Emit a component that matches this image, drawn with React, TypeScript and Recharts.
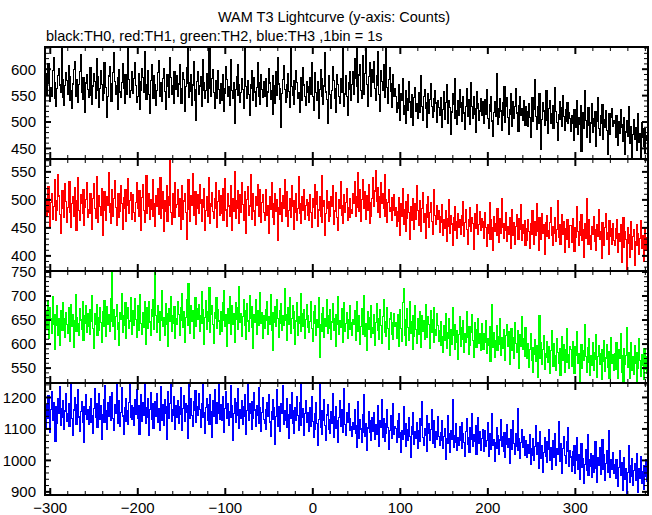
import { Line, LineChart, ReferenceArea, XAxis, YAxis } from "recharts";

// 1 s bins starting at t = -305 s
const T0 = -305;
const BIN = 1;

// TH0 (black)
const th0 = [
  591, 552, 574, 610, 583, 539, 566, 548, 597, 621, 575, 544, 529, 563, 588, 602, 570, 556, 640, 581, 547, 532, 569, 594, 578,
  553, 607, 586, 541, 560, 525, 572, 599, 615, 563, 549, 580, 537, 571, 596, 628, 557, 542, 585, 566, 519, 574, 590, 561, 546,
  579, 603, 551, 534, 568, 592, 577, 545, 620, 586, 559, 527, 563, 598, 571, 540, 555, 613, 582, 566, 509, 548, 587, 604, 572,
  539, 561, 594, 631, 576, 552, 568, 523, 584, 599, 557, 546, 575, 610, 563, 535, 589, 571, 552, 640, 581, 547, 560, 596, 568,
  555, 583, 612, 569, 538, 549, 591, 576, 523, 560, 602, 585, 557, 634, 571, 543, 566, 597, 552, 517, 579, 608, 564, 545, 588,
  570, 531, 559, 594, 616, 562, 548, 575, 539, 582, 601, 558, 524, 567, 590, 573, 546, 621, 584, 553, 569, 536, 595, 578, 561,
  587, 549, 572, 608, 563, 535, 556, 594, 580, 521, 567, 603, 640, 574, 546, 558, 589, 532, 570, 615, 562, 541, 503, 577, 596,
  553, 568, 586, 529, 560, 618, 575, 545, 559, 592, 538, 571, 640, 564, 549, 583, 600, 556, 526, 566, 579, 544, 597, 561, 535,
  572, 541, 589, 563, 520, 555, 604, 580, 548, 567, 531, 593, 618, 559, 544, 575, 498, 562, 586, 551, 609, 570, 537, 556, 583,
  561, 526, 594, 640, 567, 545, 579, 552, 512, 571, 598, 563, 540, 585, 557, 529, 566, 612, 574, 549, 533, 590, 561, 547, 576,
  548, 583, 566, 529, 557, 601, 574, 542, 560, 515, 588, 569, 536, 595, 551, 622, 572, 543, 563, 489, 554, 580, 607, 561, 538,
  571, 546, 592, 558, 527, 640, 567, 550, 579, 533, 561, 598, 575, 544, 556, 518, 584, 562, 541, 603, 570, 549, 531, 577, 556,
  567, 538, 585, 553, 612, 548, 522, 571, 594, 556, 541, 577, 506, 562, 599, 583, 549, 534, 568, 631, 557, 543, 497, 574, 588,
  552, 526, 560, 605, 579, 545, 563, 518, 590, 571, 549, 536, 582, 557, 640, 566, 530, 553, 587, 548, 512, 575, 596, 561, 540,
  571, 596, 552, 620, 583, 641, 567, 538, 589, 608, 560, 545, 626, 578, 553, 592, 642, 571, 530, 586, 612, 557, 548, 599, 575,
  615, 563, 541, 588, 634, 570, 552, 521, 597, 577, 560, 608, 584, 546, 642, 565, 536, 580, 603, 558, 528, 572, 590, 549, 563,
  548, 519, 537, 571, 526, 504, 553, 540, 582, 515, 531, 560, 497, 544, 522, 576, 538, 509, 551, 528, 493, 546, 565, 520, 534,
  507, 556, 541, 518, 587, 529, 503, 548, 562, 525, 490, 537, 554, 516, 543, 572, 530, 508, 545, 521, 559, 536, 499, 541, 527,
  512, 546, 531, 489, 524, 558, 505, 537, 570, 516, 498, 541, 527, 476, 519, 553, 534, 506, 582, 522, 495, 540, 513, 561, 528,
  501, 536, 548, 517, 486, 529, 563, 511, 542, 520, 496, 575, 530, 507, 549, 515, 480, 525, 557, 534, 503, 521, 544, 512, 538,
  527, 498, 542, 515, 561, 506, 487, 533, 520, 549, 502, 472, 518, 539, 511, 592, 526, 495, 508, 545, 521, 484, 536, 513, 567,
  500, 529, 547, 509, 476, 523, 554, 514, 491, 538, 506, 529, 563, 517, 498, 482, 531, 548, 512, 525, 503, 540, 519, 494, 530,
  519, 492, 535, 508, 471, 513, 547, 501, 524, 580, 510, 486, 529, 498, 553, 516, 449, 505, 537, 521, 494, 512, 560, 503, 478,
  526, 540, 497, 515, 532, 488, 509, 565, 520, 499, 466, 514, 538, 505, 527, 492, 550, 511, 484, 523, 502, 536, 497, 518, 507,
  483, 512, 497, 466, 524, 505, 489, 541, 476, 508, 495, 531, 444, 500, 518, 487, 560, 503, 471, 494, 527, 510, 462, 498, 535,
  481, 506, 492, 519, 453, 501, 546, 488, 475, 513, 497, 533, 468, 505, 490, 522, 484, 438, 499, 516, 477, 508, 526, 491, 503,
  497, 470, 512, 483, 456, 501, 478, 524, 489, 463, 495, 509, 438, 481, 503, 472, 530, 487, 459, 492, 431, 476, 505, 468, 490,
  446, 485, 515, 462, 479, 433, 498, 471, 454, 487, 440, 475, 466,
];

// TH1 (red)
const th1 = [
  503, 471, 489, 524, 478, 452, 495, 511, 466, 488, 537, 499, 463, 481, 545, 507, 474, 441, 492, 516, 484, 468, 529, 497, 459,
  486, 512, 533, 477, 450, 494, 505, 470, 522, 488, 446, 499, 540, 481, 464, 509, 493, 475, 518, 455, 487, 501, 530, 469, 483,
  476, 512, 495, 448, 503, 529, 484, 467, 541, 492, 460, 507, 488, 473, 520, 436, 499, 515, 482, 463, 506, 490, 549, 477, 458,
  494, 518, 471, 502, 535, 486, 455, 497, 511, 468, 480, 526, 493, 447, 504, 484, 519, 462, 490, 538, 475, 499, 513, 466, 489,
  509, 478, 462, 496, 531, 485, 470, 517, 492, 446, 504, 527, 481, 459, 498, 544, 476, 489, 512, 465, 501, 483, 537, 470, 494,
  453, 508, 489, 521, 474, 496, 540, 467, 485, 515, 443, 499, 480, 526, 462, 505, 490, 573, 478, 457, 511, 493, 469, 530, 486,
  492, 519, 471, 503, 448, 487, 525, 466, 498, 512, 478, 430, 495, 536, 483, 461, 507, 490, 547, 472, 499, 515, 457, 484, 509,
  476, 528, 493, 462, 501, 487, 520, 445, 481, 506, 470, 539, 494, 458, 488, 513, 479, 467, 502, 531, 485, 450, 497, 516, 473,
  507, 476, 521, 463, 494, 538, 482, 452, 511, 489, 470, 526, 496, 445, 503, 479, 551, 467, 498, 517, 485, 458, 509, 477, 531,
  492, 464, 515, 487, 441, 500, 524, 473, 489, 545, 466, 497, 512, 480, 455, 506, 491, 528, 471, 484, 519, 460, 495, 510, 478,
  464, 497, 518, 472, 489, 440, 506, 483, 530, 468, 494, 457, 511, 479, 500, 427, 486, 520, 474, 496, 461, 508, 484, 537, 470,
  492, 515, 453, 481, 503, 469, 526, 488, 448, 498, 477, 512, 463, 485, 541, 475, 494, 458, 506, 482, 519, 466, 490, 501, 472,
  495, 463, 510, 478, 450, 502, 486, 528, 467, 492, 514, 453, 482, 506, 471, 543, 459, 488, 499, 436, 476, 517, 484, 462, 497,
  471, 505, 489, 526, 456, 480, 494, 513, 468, 446, 501, 485, 532, 473, 490, 458, 509, 478, 496, 521, 464, 487, 503, 469, 483,
  475, 511, 494, 532, 470, 505, 487, 549, 480, 519, 462, 500, 536, 485, 497, 515, 466, 508, 482, 527, 458, 496, 471, 503, 540,
  489, 516, 553, 498, 477, 522, 505, 468, 531, 493, 512, 484, 546, 470, 501, 460, 495, 518, 479, 487, 463, 504, 482, 510, 473,
  487, 453, 479, 504, 462, 437, 493, 471, 520, 457, 482, 444, 497, 467, 510, 477, 429, 488, 463, 502, 474, 448, 494, 466, 526,
  481, 455, 470, 499, 443, 485, 513, 460, 476, 432, 491, 468, 506, 451, 478, 495, 462, 439, 484, 519, 472, 456, 490, 465, 480,
  442, 470, 459, 491, 437, 464, 449, 480, 425, 467, 453, 500, 440, 472, 457, 418, 468, 446, 488, 461, 431, 476, 450, 464, 439,
  472, 455, 497, 434, 460, 483, 447, 420, 465, 452, 486, 443, 469, 458, 412, 475, 449, 463, 492, 438, 456, 479, 445, 467, 451,
  461, 432, 477, 450, 417, 455, 441, 496, 429, 464, 450, 409, 470, 444, 458, 436, 485, 448, 424, 467, 440, 502, 451, 431, 457,
  445, 478, 426, 453, 439, 468, 414, 449, 482, 437, 460, 421, 452, 474, 443, 430, 466, 447, 491, 428, 455, 440, 463, 419, 448,
  428, 465, 444, 413, 457, 438, 480, 448, 421, 462, 436, 494, 443, 410, 469, 451, 429, 475, 440, 455, 403, 459, 435, 472, 446,
  431, 460, 486, 437, 418, 452, 441, 468, 425, 447, 499, 433, 456, 420, 445, 473, 438, 461, 407, 449, 430, 464, 442, 415, 454,
  454, 424, 467, 441, 408, 450, 433, 488, 444, 418, 461, 437, 473, 427, 447, 398, 458, 432, 502, 441, 421, 465, 436, 412, 452,
  439, 470, 426, 447, 409, 456, 434, 483, 429, 444, 395, 460, 437, 418, 451, 476, 430, 442, 403, 463, 435, 448, 421, 457, 428,
  419, 448, 432, 465, 406, 439, 425, 456, 388, 437, 469, 416, 444, 429, 375, 450, 423, 397, 438, 461, 412, 434, 447, 383, 426,
  455, 418, 440, 402, 431, 463, 414, 437, 390, 428, 449, 409, 433,
];

// TH2 (green)
const th2 = [
  667, 632, 691, 646, 611, 675, 652, 623, 698, 641, 588, 661, 638, 680, 619, 654, 597, 670, 645, 629, 687, 653, 614, 665, 640,
  622, 676, 649, 605, 683, 636, 661, 594, 648, 702, 627, 656, 642, 617, 673, 650, 631, 689, 608, 659, 644, 679, 625, 663, 637,
  621, 672, 647, 700, 633, 591, 664, 640, 682, 618, 655, 629, 676, 645, 603, 668, 637, 691, 652, 615, 677, 641, 662, 627, 694,
  648, 752, 636, 671, 609, 657, 683, 630, 644, 598, 666, 651, 706, 624, 659, 638, 687, 612, 653, 675, 633, 648, 697, 620, 663,
  670, 639, 694, 651, 613, 679, 628, 658, 703, 642, 621, 666, 635, 689, 599, 675, 654, 632, 688, 646, 617, 671, 657, 693, 630,
  752, 660, 624, 681, 645, 607, 668, 650, 712, 637, 655, 619, 684, 641, 663, 595, 673, 648, 699, 626, 659, 643, 678, 611, 652,
  641, 688, 662, 619, 676, 649, 705, 634, 667, 604, 655, 692, 638, 725, 658, 622, 680, 647, 669, 611, 664, 697, 636, 674, 651,
  683, 626, 659, 710, 643, 672, 600, 656, 690, 631, 668, 647, 718, 625, 661, 679, 640, 602, 666, 653, 696, 633, 671, 648, 621,
  667, 626, 686, 650, 711, 637, 661, 596, 673, 644, 698, 656, 620, 680, 641, 664, 604, 687, 652, 630, 675, 720, 645, 663, 616,
  658, 692, 639, 669, 609, 684, 648, 627, 701, 654, 635, 678, 592, 662, 646, 693, 621, 670, 655, 638, 707, 643, 666, 612, 659,
  633, 671, 650, 689, 621, 658, 640, 702, 629, 665, 586, 646, 678, 636, 692, 654, 613, 669, 644, 684, 628, 659, 638, 715, 649,
  662, 607, 675, 641, 696, 623, 653, 680, 632, 668, 599, 648, 687, 619, 657, 643, 706, 626, 664, 637, 672, 611, 651, 683, 634,
  660, 624, 647, 689, 632, 606, 668, 644, 681, 618, 651, 635, 697, 573, 640, 664, 627, 676, 613, 654, 637, 693, 623, 659, 632,
  671, 609, 646, 685, 628, 653, 596, 662, 641, 699, 620, 648, 634, 674, 603, 657, 687, 626, 642, 665, 611, 650, 679, 631, 645,
  617, 651, 640, 670, 607, 643, 688, 626, 659, 599, 636, 674, 620, 649, 701, 616, 642, 586, 667, 631, 656, 613, 680, 635, 623,
  662, 597, 645, 684, 629, 654, 610, 671, 638, 602, 658, 693, 624, 647, 615, 676, 632, 589, 652, 666, 621, 644, 609, 663, 637,
  644, 611, 661, 628, 596, 672, 633, 605, 687, 715, 619, 650, 598, 674, 635, 607, 689, 623, 646, 588, 659, 615, 680, 630, 601,
  654, 620, 668, 637, 593, 660, 626, 648, 609, 683, 632, 614, 657, 640, 591, 669, 625, 651, 603, 676, 631, 617, 664, 638, 606,
  627, 597, 646, 616, 582, 638, 608, 664, 591, 623, 612, 652, 577, 631, 600, 675, 617, 588, 641, 604, 628, 569, 620, 657, 595,
  634, 610, 649, 583, 622, 603, 667, 614, 579, 636, 598, 625, 661, 607, 572, 645, 618, 593, 630, 654, 601, 621, 586, 642, 611,
  589, 621, 604, 648, 580, 612, 597, 636, 563, 609, 683, 593, 623, 572, 607, 639, 586, 616, 599, 654, 577, 613, 592, 630, 602,
  566, 618, 641, 595, 625, 558, 606, 633, 587, 614, 570, 644, 601, 583, 627, 610, 549, 620, 596, 657, 588, 611, 574, 635, 604,
  571, 602, 552, 589, 621, 567, 593, 542, 579, 610, 564, 597, 530, 584, 659, 571, 603, 557, 589, 618, 548, 581, 573, 606, 561,
  595, 538, 586, 627, 569, 553, 600, 577, 545, 612, 583, 560, 591, 534, 574, 616, 566, 598, 541, 588, 633, 562, 579, 550, 594,
  588, 554, 606, 569, 538, 594, 577, 625, 559, 580, 523, 570, 599, 550, 586, 565, 640, 574, 541, 592, 562, 611, 535, 577, 556,
  603, 546, 583, 568, 620, 531, 574, 596, 557, 581, 527, 589, 563, 608, 544, 571, 598, 552, 584, 529, 566, 614, 560, 579, 545,
  581, 547, 603, 562, 528, 588, 571, 621, 542, 575, 521, 591, 558, 577, 635, 552, 582, 529, 569, 604, 545, 573, 536, 596, 560,
  520, 583, 549, 611, 565, 532, 578, 555, 526, 590, 548, 574, 539,
];

// TH3 (blue)
const th3 = [
  1103, 1177, 1132, 1206, 1152, 1090, 1163, 1220, 1127, 1184, 1141, 1061, 1171, 1119, 1195, 1148, 1236, 1111, 1166, 1136, 1189, 1099, 1157, 1213, 1124,
  1150, 1182, 1107, 1168, 1246, 1133, 1079, 1160, 1201, 1142, 1115, 1176, 1224, 1138, 1093, 1155, 1187, 1121, 1170, 1058, 1146, 1209, 1129, 1162, 1113,
  1172, 1122, 1198, 1143, 1087, 1164, 1227, 1138, 1180, 1105, 1155, 1211, 1131, 1175, 1068, 1147, 1192, 1120, 1239, 1159, 1098, 1183, 1140, 1204, 1126,
  1161, 1215, 1134, 1096, 1178, 1149, 1246, 1117, 1166, 1189, 1108, 1152, 1230, 1141, 1082, 1169, 1123, 1196, 1157, 1114, 1185, 1246, 1137, 1173, 1129,
  1167, 1111, 1194, 1146, 1225, 1132, 1173, 1083, 1158, 1208, 1123, 1185, 1144, 1243, 1116, 1169, 1137, 1197, 1078, 1161, 1217, 1130, 1179, 1102, 1156,
  1188, 1140, 1212, 1120, 1165, 1095, 1151, 1234, 1128, 1176, 1110, 1193, 1149, 1066, 1171, 1220, 1135, 1182, 1246, 1125, 1160, 1203, 1143, 1099, 1174,
  1138, 1191, 1117, 1172, 1231, 1147, 1096, 1165, 1206, 1125, 1182, 1154, 1070, 1175, 1246, 1133, 1198, 1142, 1109, 1186, 1159, 1221, 1120, 1170, 1144,
  1213, 1162, 1104, 1180, 1136, 1240, 1151, 1087, 1168, 1197, 1128, 1177, 1115, 1209, 1156, 1073, 1190, 1139, 1226, 1164, 1118, 1183, 1149, 1246, 1131,
  1177, 1127, 1202, 1145, 1089, 1166, 1218, 1134, 1181, 1110, 1155, 1239, 1138, 1173, 1063, 1150, 1196, 1121, 1185, 1144, 1227, 1102, 1163, 1132, 1191,
  1115, 1170, 1210, 1140, 1083, 1158, 1246, 1126, 1179, 1148, 1097, 1188, 1135, 1215, 1160, 1108, 1174, 1143, 1230, 1119, 1167, 1092, 1153, 1199, 1129,
  1116, 1162, 1099, 1185, 1141, 1210, 1122, 1077, 1154, 1193, 1130, 1167, 1050, 1139, 1224, 1108, 1171, 1135, 1091, 1180, 1150, 1237, 1113, 1159, 1127,
  1196, 1104, 1145, 1071, 1176, 1133, 1215, 1118, 1158, 1085, 1169, 1126, 1203, 1142, 1096, 1183, 1111, 1240, 1137, 1165, 1080, 1148, 1190, 1120, 1152,
  1138, 1093, 1167, 1109, 1202, 1123, 1072, 1149, 1097, 1184, 1116, 1047, 1131, 1240, 1104, 1159, 1084, 1126, 1193, 1111, 1062, 1144, 1177, 1100, 1129,
  1086, 1155, 1118, 1212, 1073, 1140, 1101, 1172, 1125, 1058, 1136, 1190, 1107, 1163, 1089, 1147, 1228, 1114, 1079, 1153, 1121, 1181, 1095, 1134, 1106,
  1077, 1120, 1097, 1162, 1085, 1041, 1111, 1188, 1071, 1129, 1100, 1056, 1145, 1089, 1209, 1076, 1118, 1032, 1103, 1156, 1088, 1125, 1063, 1137, 1092,
  1151, 1068, 1114, 1082, 1174, 1098, 1045, 1127, 1106, 1193, 1074, 1133, 1059, 1116, 1087, 1160, 1105, 1036, 1094, 1141, 1070, 1119, 1180, 1083, 1108,
  1102, 1057, 1126, 1072, 1148, 1089, 1025, 1094, 1067, 1171, 1082, 1116, 1046, 1098, 1063, 1137, 1077, 1011, 1107, 1084, 1153, 1051, 1090, 1070, 1121,
  1038, 1095, 1132, 1061, 1110, 1186, 1074, 1049, 1101, 1079, 1143, 1028, 1086, 1118, 1065, 1097, 1163, 1055, 1081, 1127, 1042, 1092, 1068, 1139, 1076,
  1048, 1089, 1062, 1127, 1037, 1076, 1101, 1003, 1068, 1141, 1053, 1084, 1024, 1095, 1066, 1192, 1042, 1079, 1057, 1116, 1031, 1071, 1047, 1107, 1062,
  1120, 1039, 1085, 1058, 1013, 1093, 1132, 1050, 1074, 1026, 1103, 1067, 1150, 1044, 1082, 1060, 1112, 1019, 1078, 1136, 1055, 1090, 1033, 1069, 1098,
  1073, 1029, 1094, 1044, 1062, 1120, 1012, 1055, 1086, 1036, 1148, 1047, 1067, 996, 1058, 1103, 1038, 1080, 1020, 1065, 1131, 1046, 1076, 1027, 1089,
  1009, 1052, 1114, 1041, 1070, 992, 1061, 1097, 1034, 1125, 1053, 1018, 1084, 1045, 1166, 1031, 1068, 1005, 1056, 1099, 1040, 1077, 1015, 1063, 1050,
  1009, 1050, 1023, 1082, 988, 1038, 1015, 1068, 999, 1043, 1112, 1018, 1055, 976, 1031, 1091, 1006, 1047, 962, 1026, 1073, 1012, 1059, 993, 1035,
  1097, 1001, 1042, 970, 1029, 1064, 1011, 1086, 983, 1036, 1020, 1124, 996, 1053, 1004, 958, 1039, 1077, 1016, 990, 1061, 1027, 1105, 980, 1032,
  1011, 965, 1028, 984, 1046, 959, 1000, 1071, 971, 1017, 940, 993, 1054, 977, 1007, 926, 988, 1035, 968, 1082, 952, 1002, 981, 1023, 945,
  1015, 961, 998, 1059, 974, 930, 1008, 985, 1041, 956, 996, 1067, 970, 1019, 937, 991, 1030, 963, 1094, 979, 947, 1004, 972, 1026, 958,
  986, 942, 1001, 959, 917, 978, 1032, 953, 994, 904, 967, 1010, 938, 973, 893, 961, 1048, 930, 982, 948, 1006, 921, 969, 990, 935,
  1021, 956, 898, 975, 944, 1013, 926, 964, 909, 985, 950, 1002, 933,
];

const X_DOMAIN: [number, number] = [-306, 383];
const X_LABELS = [-300, -200, -100, 0, 100, 200, 300];

const range = (a: number, b: number, s: number) =>
  Array.from({ length: Math.floor((b - a) / s) + 1 }, (_, i) => a + i * s);

const xTicks = range(-300, 380, 20);

const panels = [
  { values: th0, color: "#000000", domain: [430, 642], ticks: range(430, 640, 10), labels: [450, 500, 550, 600] },
  { values: th1, color: "#ff0000", domain: [373, 573], ticks: range(380, 570, 10), labels: [400, 450, 500, 550] },
  { values: th2, color: "#00ff00", domain: [519, 752], ticks: range(520, 750, 10), labels: [550, 600, 650, 700, 750] },
  { values: th3, color: "#0000ff", domain: [890, 1246], ticks: range(900, 1240, 20), labels: [900, 1000, 1100, 1200] },
];

// panel edges in page pixels
const EDGES = [47, 159, 271, 383, 495];
const FONT = "'Liberation Sans', Arial, Helvetica, sans-serif";
const AXIS = { stroke: "#000", strokeWidth: 2 };

const fmt = (v: number) => String(v).replace("-", "\u2212");

function XTick(props: any) {
  const { x, y, payload, dir, showLabel } = props;
  const major = payload.value % 100 === 0;
  const len = major ? 7 : 4;
  return (
    <g>
      <line x1={x} x2={x} y1={y} y2={y + dir * len} stroke="#000" strokeWidth={major ? 2 : 1} />
      {showLabel && X_LABELS.includes(payload.value) && (
        <text x={x} y={y + 18} textAnchor="middle" fontFamily={FONT} fontSize={15} fill="#000">
          {fmt(payload.value)}
        </text>
      )}
    </g>
  );
}

function YTick(props: any) {
  const { x, y, payload, dir, showLabel, majors } = props;
  const major = majors.includes(payload.value);
  const len = major ? 6 : 4;
  return (
    <g>
      <line x1={x} x2={x + dir * len} y1={y} y2={y} stroke="#000" strokeWidth={major ? 2 : 1} />
      {showLabel && major && (
        <text x={x - 9} y={y} dy="0.36em" textAnchor="end" fontFamily={FONT} fontSize={15} fill="#000">
          {payload.value}
        </text>
      )}
    </g>
  );
}

function Panel({ index }: { index: number }) {
  const cfg = panels[index];
  const last = index === panels.length - 1;
  const top = EDGES[index];
  const h = EDGES[index + 1] - top;
  const padTop = 10;
  const padBottom = last ? 20 : 10;
  const rows = cfg.values.map((v, i) => ({ t: T0 + i * BIN, v }));
  return (
    <div style={{ position: "absolute", left: 0, top: top - padTop }}>
      <LineChart
        width={652}
        height={h + padTop + padBottom}
        data={rows}
        margin={{ top: padTop - 1, right: 0, bottom: padBottom - 1, left: 0 }}
      >
        <XAxis
          xAxisId="b"
          dataKey="t"
          type="number"
          orientation="bottom"
          domain={X_DOMAIN}
          allowDataOverflow
          ticks={xTicks}
          interval={0}
          height={1}
          tickSize={0}
          tickMargin={0}
          tickLine={false}
          axisLine={AXIS}
          tick={(p: any) => <XTick {...p} dir={-1} showLabel={last} />}
        />
        <XAxis
          xAxisId="t"
          dataKey="t"
          type="number"
          orientation="top"
          domain={X_DOMAIN}
          allowDataOverflow
          ticks={xTicks}
          interval={0}
          height={1}
          tickSize={0}
          tickMargin={0}
          tickLine={false}
          axisLine={AXIS}
          tick={(p: any) => <XTick {...p} dir={1} showLabel={false} />}
        />
        <YAxis
          yAxisId="l"
          type="number"
          orientation="left"
          domain={cfg.domain}
          allowDataOverflow
          ticks={cfg.ticks}
          interval={0}
          width={45}
          tickSize={0}
          tickMargin={0}
          tickLine={false}
          axisLine={AXIS}
          tick={(p: any) => <YTick {...p} dir={1} showLabel majors={cfg.labels} />}
        />
        <YAxis
          yAxisId="r"
          type="number"
          orientation="right"
          domain={cfg.domain}
          allowDataOverflow
          ticks={cfg.ticks}
          interval={0}
          width={4}
          tickSize={0}
          tickMargin={0}
          tickLine={false}
          axisLine={AXIS}
          tick={(p: any) => <YTick {...p} dir={-1} showLabel={false} majors={cfg.labels} />}
        />
        <Line
          xAxisId="b"
          yAxisId="l"
          dataKey="v"
          type="step"
          stroke={cfg.color}
          strokeWidth={1.2}
          shapeRendering="crispEdges"
          dot={false}
          activeDot={false}
          isAnimationActive={false}
        />
        <ReferenceArea
          xAxisId="b"
          yAxisId="l"
          x1={X_DOMAIN[0]}
          x2={X_DOMAIN[1]}
          y1={cfg.domain[0]}
          y2={cfg.domain[1]}
          fill="none"
          stroke="#000"
          strokeWidth={2}
        />
      </LineChart>
    </div>
  );
}

export default function App() {
  return (
    <div
      style={{
        position: "absolute",
        left: 0,
        top: 0,
        width: 652,
        height: 515,
        overflow: "hidden",
        background: "#ffffff",
      }}
    >
      <svg width={652} height={46} style={{ position: "absolute", left: 0, top: 0 }}>
        <text x={334} y={22} textAnchor="middle" fontFamily={FONT} fontSize={14.5} fill="#000">
          WAM T3 Lightcurve (y-axis: Counts)
        </text>
        <text x={46} y={41} fontFamily={FONT} fontSize={14.5} fill="#000">
          black:TH0, red:TH1, green:TH2, blue:TH3 ,1bin = 1s
        </text>
      </svg>
      {panels.map((_, i) => (
        <Panel key={i} index={i} />
      ))}
    </div>
  );
}
